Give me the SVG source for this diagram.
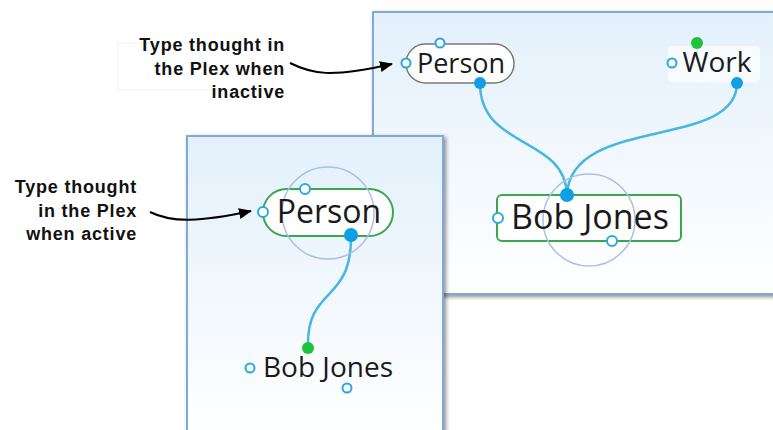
<svg xmlns="http://www.w3.org/2000/svg" width="773" height="430" viewBox="0 0 773 430">
<defs>
<linearGradient id="bg" x1="0" y1="0" x2="0" y2="1">
<stop offset="0" stop-color="#e3f0fb"/>
<stop offset="1" stop-color="#ffffff"/>
</linearGradient>
<filter id="sh" x="-5%" y="-5%" width="115%" height="115%">
<feGaussianBlur in="SourceAlpha" stdDeviation="2"/>
<feOffset dx="2" dy="2"/>
<feComponentTransfer><feFuncA type="linear" slope="0.45"/></feComponentTransfer>
<feMerge><feMergeNode/><feMergeNode in="SourceGraphic"/></feMerge>
</filter>
<marker id="ah" markerWidth="13" markerHeight="11" refX="12" refY="5.5" orient="auto" markerUnits="userSpaceOnUse">
<path d="M0,0 L13,5.5 L0,11 z" fill="#000"/>
</marker>
</defs>
<style>
.panel{fill:url(#bg);stroke:#7fa9d6;stroke-width:2}
.node{font-family:"Open Sans","Noto Sans",sans-serif;fill:#1a1a1a}
.ann{font-family:"Liberation Sans",Arial,sans-serif;font-weight:bold;font-size:18px;letter-spacing:0.8px;fill:#111;text-anchor:end}
.ring{fill:none;stroke:#a9c0e6;stroke-width:1.5}
.open{fill:#fff;stroke:#29a9dd;stroke-width:2}
.dot{fill:#0fa0e4}
.gdot{fill:#1fc23a}
.link{fill:none;stroke:#4ab6e2;stroke-width:2.5}
.arrow{fill:none;stroke:#000;stroke-width:2}
</style>
<rect width="773" height="430" fill="#fff"/>

<g id="panel-inactive" filter="url(#sh)">
<rect class="panel" x="373" y="12" width="401" height="282"/>
</g>
<g id="panel-active" filter="url(#sh)">
<rect class="panel" x="187" y="136" width="256" height="300"/>
</g>

<g id="connectors">
<path class="link" d="M480,83 C480,150 565,135 567,195"/>
<path class="link" d="M737,83 C737,150 570,115 567,195"/>
<path class="link" d="M351,235 C352,305 306,285 308,348"/>
<path class="arrow" marker-end="url(#ah)" d="M290,63 C312,74 330,78 392,64"/>
<path class="arrow" marker-end="url(#ah)" d="M150,212 C172,223 200,222 251,211"/>
</g>

<g id="ann-inactive">
<rect x="118" y="43" width="155" height="47" fill="none" stroke="#f6f6f6" stroke-width="1.5"/>
<text class="ann" x="285" y="51">Type thought in</text>
<text class="ann" x="285" y="75">the Plex when</text>
<text class="ann" x="285" y="98">inactive</text>
</g>
<g id="ann-active">
<text class="ann" x="137" y="193">Type thought</text>
<text class="ann" x="137" y="217">in the Plex</text>
<text class="ann" x="137" y="240">when active</text>
</g>

<g id="person-inactive">
<rect x="406" y="44" width="108" height="39" rx="19.5" fill="#fff" stroke="#7a7a7a" stroke-width="1.5"/>
<text class="node" x="461" y="73" font-size="27" text-anchor="middle">Person</text>
<circle class="open" cx="406" cy="63" r="4.5"/>
<circle class="open" cx="440" cy="43" r="4.5"/>
<circle class="dot" cx="480" cy="83" r="6"/>
</g>

<g id="work">
<rect x="668" y="46" width="92" height="36" rx="4" fill="#fbfdff" opacity="0.8"/>
<text class="node" x="717" y="72" font-size="28" text-anchor="middle">Work</text>
<circle class="open" cx="672" cy="63" r="4.5"/>
<circle class="gdot" cx="697" cy="43" r="6"/>
<circle class="dot" cx="737" cy="83" r="6"/>
</g>

<g id="bobjones-inactive">
<rect x="497" y="195" width="184" height="46" rx="5" fill="#fff" stroke="#3aa64f" stroke-width="2"/>
<circle class="ring" cx="589" cy="220" r="46"/>
<text class="node" x="590" y="229" font-size="34" text-anchor="middle">Bob Jones</text>
<circle class="open" cx="498" cy="218" r="5"/>
<circle class="open" cx="612" cy="241" r="5"/>
<circle class="dot" cx="567" cy="195" r="7"/>
</g>

<g id="person-active">
<rect x="263" y="189" width="130" height="47" rx="23.5" fill="#fff" stroke="#3aa64f" stroke-width="2"/>
<circle class="ring" cx="328" cy="213" r="46"/>
<text class="node" x="329" y="223" font-size="32" text-anchor="middle">Person</text>
<circle class="open" cx="263" cy="212" r="5"/>
<circle class="open" cx="305" cy="189" r="5"/>
<circle class="dot" cx="351" cy="235" r="7"/>
</g>

<g id="bobjones-active">
<text class="node" x="328" y="377" font-size="28" text-anchor="middle">Bob Jones</text>
<circle class="open" cx="250" cy="368" r="4.5"/>
<circle class="open" cx="347" cy="388" r="4.5"/>
<circle class="gdot" cx="308" cy="348" r="6"/>
</g>
</svg>
